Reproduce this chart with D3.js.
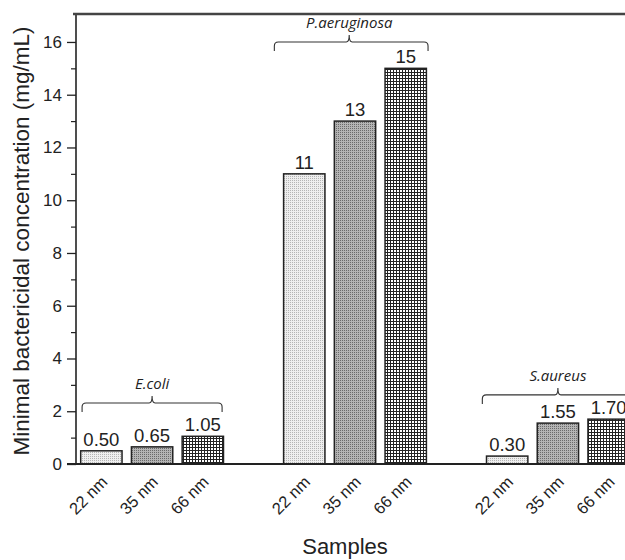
<!DOCTYPE html>
<html>
<head>
<meta charset="utf-8">
<script src="https://cdn.jsdelivr.net/npm/d3@7"></script>
<style>
body{margin:0;background:#fff}
svg{display:block}
text{font-family:"Liberation Sans",Arial,sans-serif;fill:#222}
.grp{font-family:"Open Sans",sans-serif;font-style:italic}
</style>
</head>
<body>
<div id="container"></div>
<script>
// values
var groups = ["E.coli","P.aeruginosa","S.aureus"]
var sizes = ["22 nm","35 nm","66 nm"]
var ecoli = [0.50,0.65,1.05]
var paeruginosa = [11,13,15]
var saureus = [0.30,1.55,1.70]
var valueLabels = [["0.50","0.65","1.05"],["11","13","15"],["0.30","1.55","1.70"]]
// bracket height (mg/mL) and span (slot units) for each group
var bracketLevel = [2.31,16.0,2.62]
var bracketSpan = [[0.62,3.38],[4.41,7.44],[8.51,11.49]]
var yTicks = [0,2,4,6,8,10,12,14,16]
var yMinor = [1,3,5,7,9,11,13,15]

var w = 625
var h = 560
var series = [ecoli,paeruginosa,saureus]

var svg = d3.select("#container").append("svg").attr("width",w).attr("height",h)

var yScale = d3.scaleLinear().domain([0,17.06]).range([464,14])
var xScale = d3.scaleLinear().domain([0.5,11.5]).range([76,634])
var barW = xScale(0.815)-xScale(0)

// fill patterns
var defs = svg.append("defs")
var p1 = defs.append("pattern").attr("id","p22").attr("patternUnits","userSpaceOnUse").attr("width",2).attr("height",2)
p1.append("rect").attr("width",2).attr("height",2).attr("fill","#eeeeee")
p1.append("rect").attr("width",1).attr("height",1).attr("fill","#b4b4b4")
var p2 = defs.append("pattern").attr("id","p35").attr("patternUnits","userSpaceOnUse").attr("width",2).attr("height",2)
p2.append("rect").attr("width",2).attr("height",2).attr("fill","#b4b4b4")
p2.append("rect").attr("width",1).attr("height",1).attr("fill","#6a6a6a")
var p3 = defs.append("pattern").attr("id","p66").attr("patternUnits","userSpaceOnUse").attr("width",3).attr("height",3)
p3.append("rect").attr("width",3).attr("height",3).attr("fill","#fff")
p3.append("rect").attr("width",3).attr("height",1).attr("fill","#222")
p3.append("rect").attr("width",1).attr("height",3).attr("fill","#222")
var fills = ["url(#p22)","url(#p35)","url(#p66)"]

// y axis
var yAxis = d3.axisLeft(yScale).tickValues(yTicks).tickSize(9).tickSizeOuter(0).tickPadding(5)
var ya = svg.append("g").attr("transform","translate(76,0)").call(yAxis)
ya.select(".domain").remove()
ya.selectAll("line").attr("stroke","#222").attr("stroke-width",1.3)
ya.selectAll("text").attr("font-size",17).attr("fill","#222").attr("font-family","Liberation Sans, Arial, sans-serif")
var yMin = d3.axisLeft(yScale).tickValues(yMinor).tickSize(5).tickFormat("")
var ym = svg.append("g").attr("transform","translate(76,0)").call(yMin)
ym.select(".domain").remove()
ym.selectAll("line").attr("stroke","#222").attr("stroke-width",1.2)

svg.append("line").attr("x1",76).attr("x2",76).attr("y1",yScale.range()[1]).attr("y2",yScale(0))
    .attr("stroke","#222").attr("stroke-width",1.6)
svg.append("line").attr("x1",73).attr("x2",w).attr("y1",14).attr("y2",14)
    .attr("stroke","#444").attr("stroke-width",2.5)

// bars
series.forEach(function(vals,g){
    vals.forEach(function(v,k){
        var slot = g*4+k+1
        svg.append("rect")
            .attr("x",xScale(slot)-barW/2)
            .attr("y",yScale(v))
            .attr("width",barW)
            .attr("height",yScale(0)-yScale(v))
            .attr("fill",fills[k])
            .attr("stroke","#222")
            .attr("stroke-width",1.5)
        svg.append("text").text(valueLabels[g][k])
            .attr("x",xScale(slot)).attr("y",yScale(v)-5)
            .attr("text-anchor","middle").attr("font-size",18.5)
        svg.append("text").text(sizes[k])
            .attr("text-anchor","end").attr("font-size",16.5)
            .attr("transform","translate("+(xScale(slot)+7)+",483) rotate(-45)")
    })

    // curly bracket above the group
    var x0 = xScale(bracketSpan[g][0]), x1 = xScale(bracketSpan[g][1])
    var xm = (x0+x1)/2
    if(g==1) xm = x0+(x1-x0)*0.5-2
    var hy = yScale(bracketLevel[g]), ty = hy+9, r = 4
    var p = d3.path()
    p.moveTo(x0,ty)
    p.lineTo(x0,hy+r)
    p.quadraticCurveTo(x0,hy,x0+r,hy)
    p.lineTo(xm-3,hy)
    p.quadraticCurveTo(xm,hy,xm,hy-7)
    p.quadraticCurveTo(xm,hy,xm+3,hy)
    p.lineTo(x1-r,hy)
    p.quadraticCurveTo(x1,hy,x1,hy+r)
    p.lineTo(x1,ty)
    svg.append("path").attr("d",p.toString()).attr("fill","none").attr("stroke","#333").attr("stroke-width",1.1)
    svg.append("text").attr("class","grp").text(groups[g])
        .attr("x",xm).attr("y",hy-14).attr("text-anchor","middle").attr("font-size",15)
})

// bottom axis line
svg.append("line").attr("x1",67).attr("x2",w).attr("y1",yScale(0)).attr("y2",yScale(0))
    .attr("stroke","#222").attr("stroke-width",2)

// axis titles
svg.append("text").text("Samples").attr("x",345).attr("y",554).attr("text-anchor","middle").attr("font-size",22)
svg.append("text").text("Minimal bactericidal concentration (mg/mL)")
    .attr("text-anchor","middle").attr("font-size",22.5)
    .attr("transform","translate(29,241) rotate(-90)")
</script>
</body>
</html>
